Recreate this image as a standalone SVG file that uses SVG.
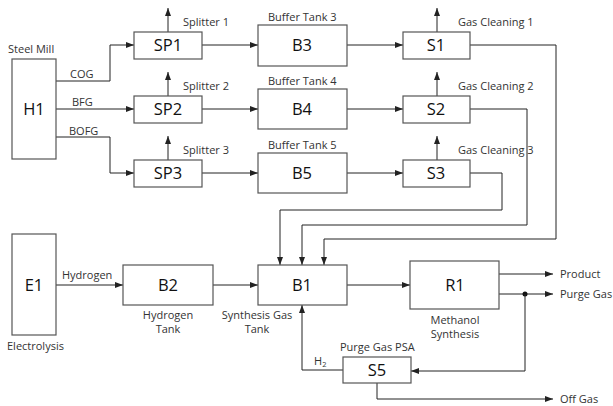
<svg xmlns="http://www.w3.org/2000/svg" width="613" height="406" viewBox="0 0 613 406">
<defs>
<marker id="ah" viewBox="0 0 8 6" refX="8" refY="3" markerWidth="8" markerHeight="6" markerUnits="userSpaceOnUse" orient="auto">
<path d="M0,0 L8,3 L0,6 Z" fill="#222"/>
</marker>
<style>
.box{fill:#fff;stroke:#555;stroke-width:1.2}
.nl{font-family:"Open Sans","Noto Sans",sans-serif;font-size:16.5px;fill:#111;text-anchor:middle}
.lb{font-family:"Open Sans","Noto Sans",sans-serif;font-size:11px;fill:#333}
.c{fill:none;stroke:#222;stroke-width:1}
.a{marker-end:url(#ah)}
</style>
</defs>
<rect width="613" height="406" fill="#fff"/>
<g id="connectors">
<path class="c a" d="M56,81 H110 V45 H134"/>
<path class="c a" d="M56,109 H134"/>
<path class="c a" d="M56,137 H110 V173 H134"/>
<path class="c a" d="M168,32 V8"/>
<path class="c a" d="M168,96 V72"/>
<path class="c a" d="M168,160 V136"/>
<path class="c a" d="M202,45 H258"/>
<path class="c a" d="M202,109 H258"/>
<path class="c a" d="M202,173 H258"/>
<path class="c a" d="M347,45 H403"/>
<path class="c a" d="M347,109 H403"/>
<path class="c a" d="M347,173 H403"/>
<path class="c a" d="M437,32 V8"/>
<path class="c a" d="M437,96 V72"/>
<path class="c a" d="M437,160 V136"/>
<path class="c a" d="M470,45 H556 V239 H324 V265"/>
<path class="c a" d="M470,109 H527 V225 H302 V265"/>
<path class="c a" d="M470,173 H502 V210 H280 V265"/>
<path class="c a" d="M56,285 H123"/>
<path class="c a" d="M213,285 H258"/>
<path class="c a" d="M347,285 H410"/>
<path class="c a" d="M499,274 H553"/>
<path class="c a" d="M499,294 H553"/>
<circle cx="525" cy="294" r="2.5" fill="#111"/>
<path class="c a" d="M525,294 V371 H411"/>
<path class="c a" d="M343,370 H302 V305"/>
<path class="c a" d="M377,383 V399 H553"/>
</g>
<g id="H1"><rect class="box" x="12" y="59" width="44" height="100"/><text class="nl" x="34" y="115">H1</text><text class="lb" x="8" y="53">Steel Mill</text></g>
<text class="lb" x="70" y="78">COG</text>
<text class="lb" x="72" y="106">BFG</text>
<text class="lb" x="69" y="135">BOFG</text>
<g id="SP1"><rect class="box" x="134" y="32" width="68" height="27"/><text class="nl" x="168" y="51">SP1</text><text class="lb" x="183" y="26">Splitter 1</text></g>
<g id="SP2"><rect class="box" x="134" y="96" width="68" height="27"/><text class="nl" x="168" y="115">SP2</text><text class="lb" x="183" y="90">Splitter 2</text></g>
<g id="SP3"><rect class="box" x="134" y="160" width="68" height="27"/><text class="nl" x="168" y="179">SP3</text><text class="lb" x="183" y="154">Splitter 3</text></g>
<g id="B3"><rect class="box" x="258" y="25" width="89" height="41"/><text class="nl" x="302" y="51">B3</text><text class="lb" x="268" y="21">Buffer Tank 3</text></g>
<g id="B4"><rect class="box" x="258" y="89" width="89" height="40"/><text class="nl" x="302" y="115">B4</text><text class="lb" x="268" y="85">Buffer Tank 4</text></g>
<g id="B5"><rect class="box" x="258" y="153" width="89" height="40"/><text class="nl" x="302" y="179">B5</text><text class="lb" x="268" y="149">Buffer Tank 5</text></g>
<g id="S1"><rect class="box" x="403" y="32" width="67" height="27"/><text class="nl" x="436" y="51">S1</text><text class="lb" x="458" y="26">Gas Cleaning 1</text></g>
<g id="S2"><rect class="box" x="403" y="96" width="67" height="27"/><text class="nl" x="436" y="115">S2</text><text class="lb" x="458" y="90">Gas Cleaning 2</text></g>
<g id="S3"><rect class="box" x="403" y="160" width="67" height="27"/><text class="nl" x="436" y="179">S3</text><text class="lb" x="458" y="154">Gas Cleaning 3</text></g>
<g id="E1"><rect class="box" x="12" y="234" width="44" height="101"/><text class="nl" x="34" y="291">E1</text><text class="lb" x="7" y="350">Electrolysis</text></g>
<text class="lb" x="62" y="279">Hydrogen</text>
<g id="B2"><rect class="box" x="123" y="265" width="90" height="40"/><text class="nl" x="168" y="291">B2</text><text class="lb" x="168" y="319" text-anchor="middle">Hydrogen</text><text class="lb" x="168" y="333" text-anchor="middle">Tank</text></g>
<g id="B1"><rect class="box" x="258" y="265" width="89" height="40"/><text class="nl" x="302" y="291">B1</text><text class="lb" x="257" y="319" text-anchor="middle">Synthesis Gas</text><text class="lb" x="257" y="333" text-anchor="middle">Tank</text></g>
<g id="R1"><rect class="box" x="410" y="261" width="89" height="48"/><text class="nl" x="455" y="291">R1</text><text class="lb" x="455" y="324" text-anchor="middle">Methanol</text><text class="lb" x="455" y="338" text-anchor="middle">Synthesis</text></g>
<text class="lb" x="560" y="278">Product</text>
<text class="lb" x="560" y="298">Purge Gas</text>
<g id="S5"><rect class="box" x="343" y="357" width="68" height="26"/><text class="nl" x="377" y="376">S5</text><text class="lb" x="340" y="351">Purge Gas PSA</text></g>
<text class="lb" x="314" y="365">H<tspan font-size="7.5" dy="2">2</tspan></text>
<text class="lb" x="560" y="403">Off Gas</text>
</svg>
